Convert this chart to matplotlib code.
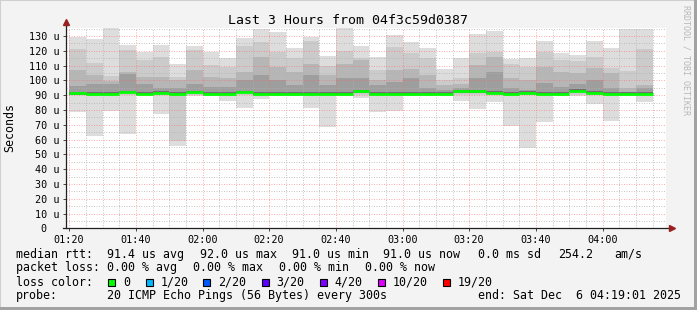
import matplotlib
matplotlib.use("Agg")
import matplotlib.pyplot as plt
from matplotlib.patches import Rectangle

# 5-minute samples (start of each interval)
bar_times = ["01:20", "01:25", "01:30", "01:35", "01:40", "01:45", "01:50", "01:55",
             "02:00", "02:05", "02:10", "02:15", "02:20", "02:25", "02:30", "02:35",
             "02:40", "02:45", "02:50", "02:55", "03:00", "03:05", "03:10", "03:15",
             "03:20", "03:25", "03:30", "03:35", "03:40", "03:45", "03:50", "03:55",
             "04:00", "04:05", "04:10"]

# ping rtt (us): outer smoke max, inner smoke edges, median, min
rtt_max = [129.5, 128.0, 135.1, 123.9, 119.3, 123.9, 110.8, 123.4, 119.3, 114.9,
           128.4, 134.7, 132.4, 121.6, 129.5, 116.4, 135.1, 123.4, 116.0, 130.6,
           125.7, 121.6, 107.6, 114.9, 131.1, 133.3, 114.4, 114.9, 126.6, 118.2,
           117.1, 126.6, 121.6, 134.7, 134.7]
rtt_hi1 = [121.1, 111.9, 102.9, 120.5, 113.7, 116.0, 102.4, 120.5, 110.3, 109.2,
           123.4, 126.1, 119.3, 114.9, 126.6, 109.9, 119.8, 114.9, 107.0, 122.7,
           118.2, 114.9, 100.2, 101.4, 118.2, 119.3, 110.8, 109.2, 119.3, 113.7,
           113.0, 116.0, 108.1, 106.3, 121.1]
rtt_hi2 = [107.0, 103.6, 99.5, 105.8, 102.4, 102.4, 100.2, 107.0, 102.4, 101.4,
           105.8, 116.0, 109.2, 105.8, 110.8, 103.6, 110.8, 113.7, 100.2, 107.0,
           107.6, 103.6, 96.8, 97.3, 110.3, 116.0, 101.4, 100.2, 109.2, 105.8,
           104.7, 108.1, 104.7, 95.0, 96.8]
rtt_hi3 = [96.1, 97.3, 97.3, 104.0, 97.3, 94.6, 94.6, 97.3, 95.7, 95.7,
           100.2, 103.6, 100.2, 96.8, 103.6, 96.8, 101.4, 101.4, 96.8, 99.1,
           101.4, 94.6, 93.4, 94.6, 101.4, 105.8, 94.6, 93.4, 98.0, 95.7,
           97.3, 100.2, 94.6, 92.3, 94.6]
rtt_median = [91.2, 91.0, 91.0, 92.0, 91.0, 91.5, 91.0, 92.0, 91.0, 91.0,
              92.0, 91.0, 91.0, 91.0, 91.0, 91.0, 91.0, 92.5, 91.0, 91.0,
              91.0, 91.0, 91.0, 92.5, 92.5, 91.5, 91.0, 91.5, 91.0, 91.0,
              93.0, 91.5, 91.0, 91.0, 91.0]
rtt_lo1 = [90.0, 90.0, 90.0, 90.0, 90.0, 90.0, 59.0, 90.0, 90.0, 90.0,
           90.0, 90.0, 90.0, 90.0, 90.0, 90.0, 90.0, 90.0, 90.0, 90.0,
           90.0, 90.0, 90.0, 90.0, 90.0, 90.0, 90.0, 90.0, 90.0, 90.0,
           90.0, 90.0, 90.0, 90.0, 90.0]
rtt_min = [78.4, 62.6, 79.5, 63.5, 90.0, 77.0, 55.6, 89.5, 89.5, 86.0,
           81.5, 87.4, 89.5, 89.5, 81.5, 68.7, 89.5, 88.3, 78.8, 79.3,
           89.5, 89.5, 89.5, 86.0, 80.6, 85.1, 69.3, 54.0, 72.0, 89.5,
           89.5, 83.8, 72.5, 89.5, 85.1]

xtick_labels = ["01:20", "01:40", "02:00", "02:20", "02:40", "03:00", "03:20", "03:40", "04:00"]
ytick_values = [0, 10, 20, 30, 40, 50, 60, 70, 80, 90, 100, 110, 120, 130]
ytick_labels = ["0  ", "10 u", "20 u", "30 u", "40 u", "50 u", "60 u", "70 u",
                "80 u", "90 u", "100 u", "110 u", "120 u", "130 u"]

loss_labels = ["0", "1/20", "2/20", "3/20", "4/20", "10/20", "19/20"]
loss_colors = ["#00ff00", "#00b8ff", "#0059ff", "#5e00ff", "#7e00ff", "#dd00ff", "#ff0000"]


def to_min(s):
    h, m = s.split(":")
    return int(h) * 60 + int(m)


W, H = 697, 310
MONO = "DejaVu Sans Mono"
plt.rcParams["font.family"] = MONO

fig = plt.figure(figsize=(W / 100, H / 100), dpi=100, facecolor="#f3f3f3")


def fx(x):
    return x / W


def fy(y):
    return 1 - y / H


# frame shading
fig.add_artist(Rectangle((0, 0), 1, 1, transform=fig.transFigure, fill=False,
                         edgecolor="#cfcfcf", linewidth=1.5))
fig.add_artist(Rectangle((fx(W - 3), 0), fx(3), 1, transform=fig.transFigure,
                         color="#a2a2a2", linewidth=0))
fig.add_artist(Rectangle((0, 0), 1, 3 / H, transform=fig.transFigure,
                         color="#a2a2a2", linewidth=0))

ax = fig.add_axes([fx(65.9), 81.7 / H, 600 / W, 200 / H])
ax.set_facecolor("white")

x0 = [to_min(t) for t in bar_times]
w = 5

# smoke layers
ax.bar(x0, [a - b for a, b in zip(rtt_max, rtt_min)], bottom=rtt_min, width=w,
       align="edge", color="#dddddd", linewidth=0, zorder=1)
ax.bar(x0, [a - b for a, b in zip(rtt_hi1, rtt_lo1)], bottom=rtt_lo1, width=w,
       align="edge", color="#cbcbcb", linewidth=0, zorder=1.1)
ax.bar(x0, [a - (m - 0.5) for a, m in zip(rtt_hi2, rtt_median)],
       bottom=[m - 0.5 for m in rtt_median], width=w,
       align="edge", color="#b6b6b6", linewidth=0, zorder=1.2)
ax.bar(x0, [a - (m - 0.5) for a, m in zip(rtt_hi3, rtt_median)],
       bottom=[m - 0.5 for m in rtt_median], width=w,
       align="edge", color="#9e9e9e", linewidth=0, zorder=1.3)
ax.bar(x0, [1.8] * len(x0), bottom=[m - 0.8 for m in rtt_median], width=w,
       align="edge", color="#707070", linewidth=0, zorder=1.4)

# median line
ax.hlines(rtt_median, x0, [x + w for x in x0], colors="#00ff00", linewidth=2.0, zorder=3)

ax.set_xlim(79.0167, 259.0167)
ax.set_ylim(0, 135.2)

ax.set_xticks([to_min(t) for t in xtick_labels])
ax.set_xticklabels(xtick_labels)
ax.set_xticks(range(80, 260, 5), minor=True)
ax.set_yticks(ytick_values)
ax.set_yticklabels(ytick_labels)
ax.set_yticks(range(5, 136, 10), minor=True)

ax.tick_params(axis="both", which="major", labelsize=7.3, length=2, width=0.7,
               color="#444444", pad=2.5)
ax.tick_params(axis="both", which="minor", length=0)
ax.set_axisbelow(False)
dot = (0, (1, 1.5))
ax.grid(which="major", color="#ff6060", alpha=0.5, linestyle=dot, linewidth=0.72)
ax.grid(which="minor", color="#b0b0b0", alpha=0.7, linestyle=dot, linewidth=0.72)

for s in ax.spines.values():
    s.set_visible(False)

# axes with arrows
ax.plot([0, 0], [0, 1.03], transform=ax.transAxes, color="#202020", lw=0.9,
        clip_on=False, zorder=4)
ax.plot([-0.005, 1.01], [0, 0], transform=ax.transAxes, color="#202020", lw=0.9,
        clip_on=False, zorder=4)
ax.plot([0], [1.03], transform=ax.transAxes, marker="^", color="#9a2020",
        markersize=4, clip_on=False, zorder=5)
ax.plot([1.01], [0], transform=ax.transAxes, marker=">", color="#9a2020",
        markersize=4, clip_on=False, zorder=5)

# title and labels
fig.text(fx(348.5), fy(20), "Last 3 Hours from 04f3c59d0387", ha="center", va="center",
         fontsize=9.5)
fig.text(fx(10), fy(127), "Seconds", rotation=90, ha="center", va="center", fontsize=8.4)
fig.text(fx(686), fy(5), "RRDTOOL / TOBI OETIKER", rotation=270, ha="center", va="top",
         fontsize=6, color="#b8b8b8")

LF = 8.4
row1 = [("median rtt:", 16), ("91.4 us avg", 107.3), ("92.0 us max", 200),
        ("91.0 us min", 292), ("91.0 us now", 382.5), ("0.0 ms sd", 478),
        ("254.2", 558.3), ("am/s", 614)]
row2 = [("packet loss:", 16), ("0.00 % avg", 107.3), ("0.00 % max", 193.3),
        ("0.00 % min", 279.3), ("0.00 % now", 365)]
row4 = [("probe:", 16), ("20 ICMP Echo Pings (56 Bytes) every 300s", 107.3),
        ("end: Sat Dec  6 04:19:01 2025", 478.3)]
for row, y in [(row1, 254.3), (row2, 267.7), (row4, 295.7)]:
    for s, x in row:
        fig.text(fx(x), fy(y), s, ha="left", va="center", fontsize=LF)

fig.text(fx(16), fy(282.3), "loss color:", ha="left", va="center", fontsize=LF)
box_x = [108.3, 146, 203.3, 261.7, 320, 377.7, 442.7]
for bx, lab, col in zip(box_x, loss_labels, loss_colors):
    fig.add_artist(Rectangle((fx(bx), fy(286.3)), 7 / W, 7 / H, transform=fig.transFigure,
                             facecolor=col, edgecolor="black", linewidth=0.8))
    fig.text(fx(bx + 14.7), fy(282.3), lab, ha="left", va="center", fontsize=LF)

fig.savefig("out.png", dpi=100, facecolor=fig.get_facecolor())
